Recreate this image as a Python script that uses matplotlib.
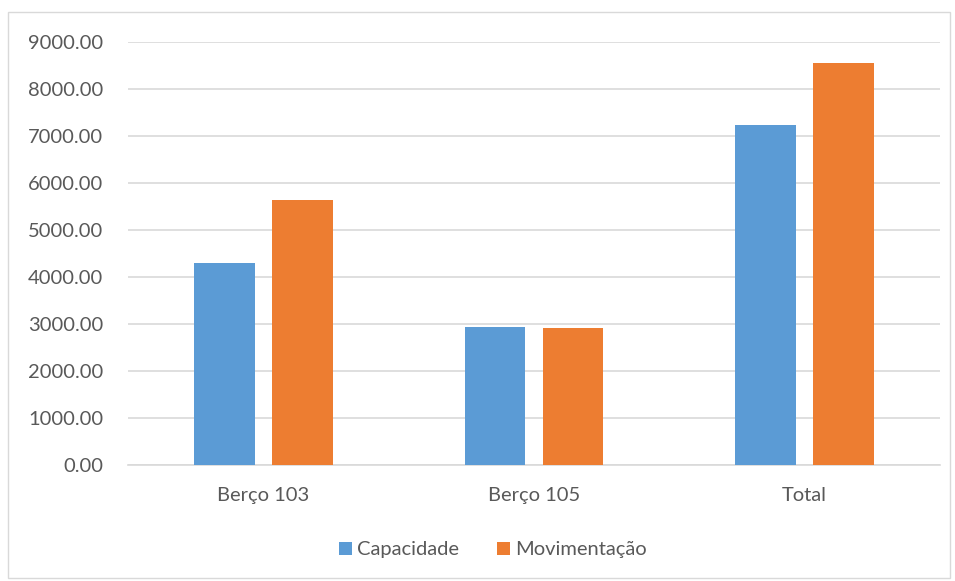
import matplotlib
matplotlib.use("Agg")
import matplotlib.pyplot as plt
import numpy as np
from matplotlib.patches import Rectangle

categories = ["Berço 103", "Berço 105", "Total"]
capacidade = [4300, 2935, 7235]
movimentacao = [5630, 2920, 8550]
series_names = ["Capacidade", "Movimentação"]
yticks = [0, 1000, 2000, 3000, 4000, 5000, 6000, 7000, 8000, 9000]

plt.rcParams['font.family'] = ['Lato', 'DejaVu Sans']
text_color = "#595959"
fs = 14.5

fig = plt.figure(figsize=(9.55, 5.81), dpi=100)
ax = fig.add_axes([128/955, 1 - 465/581, (940-128)/955, (465-42)/581])

x = np.arange(len(categories))
w = 0.225
off = 0.144
ax.bar(x - off, capacidade, w, color="#5B9BD5", label=series_names[0], zorder=3)
ax.bar(x + off, movimentacao, w, color="#ED7D31", label=series_names[1], zorder=3)

ax.set_xlim(-0.5, len(categories) - 0.5)
ax.set_ylim(0, 9000)
ax.set_yticks(yticks)
ax.set_yticklabels([f"{v:.2f}" for v in yticks], fontsize=fs, color=text_color)
ax.set_xticks(x)
ax.set_xticklabels(categories, fontsize=fs, color=text_color)
ax.tick_params(axis='both', length=0)
ax.tick_params(axis='y', pad=18)
ax.tick_params(axis='x', pad=16)
ax.grid(axis='y', color="#D9D9D9", linewidth=1.2, zorder=0)
for s in ["top", "right", "left"]:
    ax.spines[s].set_visible(False)
ax.spines["bottom"].set_color("#D9D9D9")
ax.spines["bottom"].set_linewidth(1.2)

leg = fig.legend(loc="center", bbox_to_anchor=(493/955, 1 - 550/581), ncol=2,
                 frameon=False, fontsize=fs, handlelength=0.65, handleheight=0.65,
                 handletextpad=0.25, columnspacing=1.9)
for t in leg.get_texts():
    t.set_color(text_color)

fig.patches.append(Rectangle((8/955, 1 - 578/581), (950-8)/955, (578-12)/581,
                             transform=fig.transFigure, fill=False,
                             edgecolor="#D9D9D9", linewidth=1))

fig.savefig("out.png", dpi=100)
